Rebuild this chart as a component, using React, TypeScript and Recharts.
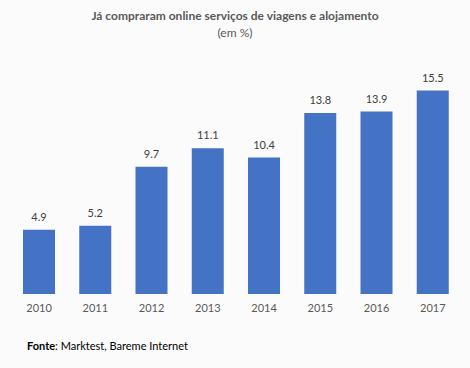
import { BarChart, Bar, XAxis, YAxis, LabelList } from "recharts";

const years = ["2010", "2011", "2012", "2013", "2014", "2015", "2016", "2017"];
const shares = [4.9, 5.2, 9.7, 11.1, 10.4, 13.8, 13.9, 15.5];

const data = years.map((year, i) => ({ year, value: shares[i] }));

const font = "Lato, 'Open Sans', sans-serif";

export default function App() {
  return (
    <div
      style={{
        position: "relative",
        width: 470,
        height: 368,
        background: "#fbfbfb",
        fontFamily: font,
        overflow: "hidden",
      }}
    >
      <style>{`body{margin:0}`}</style>
      <div
        style={{
          position: "absolute",
          top: 8,
          width: "100%",
          textAlign: "center",
          fontWeight: 700,
          fontSize: 12,
          color: "#595959",
        }}
      >
        Já compraram online serviços de viagens e alojamento
      </div>
      <div
        style={{
          position: "absolute",
          top: 25,
          width: "100%",
          textAlign: "center",
          fontSize: 12,
          color: "#595959",
        }}
      >
        (em %)
      </div>
      <div style={{ position: "absolute", top: 0, left: 0 }}>
        <BarChart
          width={470}
          height={368}
          data={data}
          margin={{ top: 84, right: 9, bottom: 44, left: 11 }}
        >
          <XAxis
            dataKey="year"
            axisLine={false}
            tickLine={false}
            height={30}
            tickMargin={4}
            tick={{ fill: "#595959", fontSize: 11, fontFamily: font }}
          />
          <YAxis hide domain={[0, 16]} />
          <Bar dataKey="value" fill="#4472C4" barSize={32} isAnimationActive={false}>
            <LabelList
              dataKey="value"
              position="top"
              offset={9}
              fill="#404040"
              fontSize={11}
              fontFamily={font}
            />
          </Bar>
        </BarChart>
      </div>
      <div
        style={{
          position: "absolute",
          top: 339,
          left: 27,
          fontSize: 11,
          color: "#000",
        }}
      >
        <b>Fonte</b>: Marktest, Bareme Internet
      </div>
    </div>
  );
}
